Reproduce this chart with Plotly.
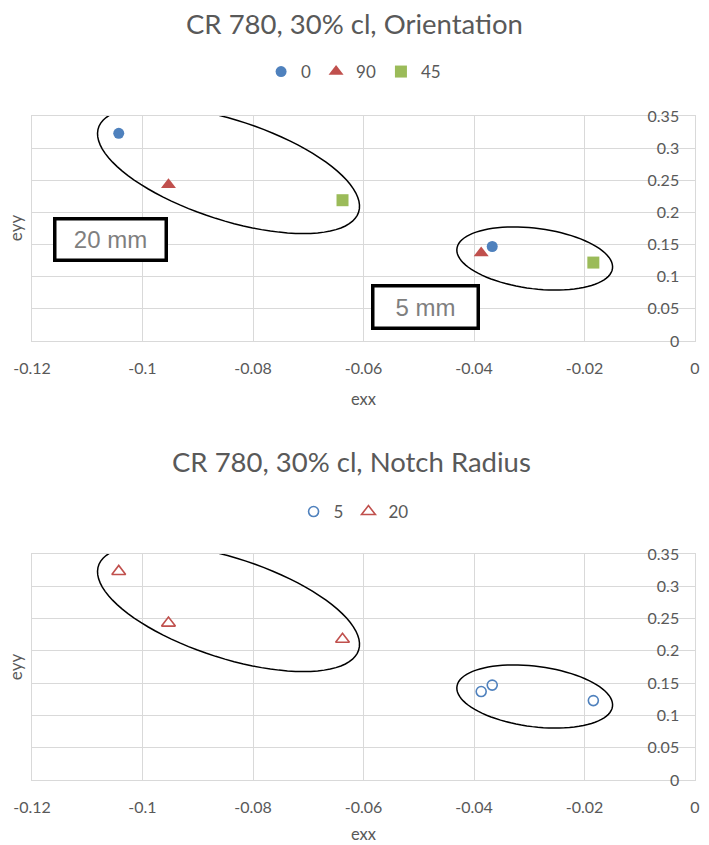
import numpy as np
import plotly.graph_objects as go

# ---------------- data ----------------
exx_0 = [-0.1043, -0.0367]
eyy_0 = [0.323, 0.147]
exx_90 = [-0.0953, -0.0387]
eyy_90 = [0.243, 0.137]
exx_45 = [-0.0638, -0.0184]
eyy_45 = [0.219, 0.122]

exx_r5 = [-0.0387, -0.0367, -0.0184]
eyy_r5 = [0.137, 0.147, 0.123]
exx_r20 = [-0.1043, -0.0953, -0.0638]
eyy_r20 = [0.323, 0.243, 0.218]

x_range = [-0.12, 0]
y_range = [0, 0.35]
x_ticks = [-0.12, -0.1, -0.08, -0.06, -0.04, -0.02, 0]
x_ticklabels = ["-0.12", "-0.1", "-0.08", "-0.06", "-0.04", "-0.02", "0"]
y_ticks = [0, 0.05, 0.1, 0.15, 0.2, 0.25, 0.3, 0.35]
y_ticklabels = ["0", "0.05", "0.1", "0.15", "0.2", "0.25", "0.3", "0.35"]

BLUE = "#4F81BD"
RED = "#C0504D"
GREEN = "#9BBB59"
TXT = "#595959"
GRID = "#D9D9D9"
FONT = "Lato"

W, H = 709, 845
ML, MR, MT, MB = 32, 9, 116, 65
PW = W - ML - MR
PH = H - MT - MB
TOP1, BOT1 = 116, 341
TOP2, BOT2 = 554, 780


def py2paper(py):
    return (H - MB - py) / PH


def px2paper(px):
    return (px - ML) / PW


fig = go.Figure()

# top chart
fig.add_trace(go.Scatter(x=exx_0, y=eyy_0, mode="markers", name="0",
                         marker=dict(symbol="circle", size=11, color=BLUE),
                         xaxis="x", yaxis="y", legend="legend"))
fig.add_trace(go.Scatter(x=exx_90, y=eyy_90, mode="markers", name="90",
                         marker=dict(symbol="triangle-up", size=13, color=RED),
                         xaxis="x", yaxis="y", legend="legend"))
fig.add_trace(go.Scatter(x=exx_45, y=eyy_45, mode="markers", name="45",
                         marker=dict(symbol="square", size=12, color=GREEN),
                         xaxis="x", yaxis="y", legend="legend"))
# bottom chart
fig.add_trace(go.Scatter(x=exx_r5, y=eyy_r5, mode="markers", name="5",
                         marker=dict(symbol="circle-open", size=10, color=BLUE,
                                     line=dict(width=1.6, color=BLUE)),
                         xaxis="x2", yaxis="y2", legend="legend2"))
fig.add_trace(go.Scatter(x=exx_r20, y=eyy_r20, mode="markers", name="20",
                         marker=dict(symbol="triangle-up-open", size=12, color=RED,
                                     line=dict(width=1.6, color=RED)),
                         xaxis="x2", yaxis="y2", legend="legend2"))


def ellipse_path(cx, cy, a, b, theta_deg, ptop, h, n=90):
    t = np.linspace(0, 2 * np.pi, n)
    th = np.radians(theta_deg)
    px = cx + a * np.cos(t) * np.cos(th) - b * np.sin(t) * np.sin(th)
    py = cy + a * np.cos(t) * np.sin(th) + b * np.sin(t) * np.cos(th)
    xs = x_range[0] + (px - ML) / PW * (x_range[1] - x_range[0])
    ys = (1 - (py - ptop) / h) * (y_range[1] - y_range[0])
    pts = ["%s%.6f,%.6f" % ("M" if i == 0 else "L", xx, yy) for i, (xx, yy) in enumerate(zip(xs, ys))]
    return " ".join(pts) + " Z"


shapes = []
for (xr, yr, ptop, pbot) in [("x", "y", TOP1, BOT1), ("x2", "y2", TOP2, BOT2)]:
    h = pbot - ptop
    shapes.append(dict(type="path", xref=xr, yref=yr,
                       path=ellipse_path(230, ptop + 54, 137.7, 50, 17.8, ptop, h),
                       line=dict(color="black", width=1.5)))
    shapes.append(dict(type="path", xref=xr, yref=yr,
                       path=ellipse_path(538.5, ptop + 142.5, 79, 30.2, 7.2, ptop, h),
                       line=dict(color="black", width=1.5)))

annotations = []


def ann(text, px, py, size, **kw):
    d = dict(text=text, x=px2paper(px), y=py2paper(py), xref="paper", yref="paper",
             xanchor="center", yanchor="middle", showarrow=False,
             font=dict(family=kw.pop("family", FONT), size=size, color=kw.pop("color", TXT)))
    d.update(kw)
    annotations.append(d)


# titles
ann("CR 780, 30% cl, Orientation", 357, 23, 27.5)
ann("CR 780, 30% cl, Notch Radius", 354, 461, 27.5)
# axis titles
for py in (399, 834):
    ann("exx", 366, py, 16.5)
for py in (228, 667):
    ann("eyy", 15, py, 17, textangle=-90)
# labelled boxes
ann("20 mm", 111.5, 239, 24, family="Liberation Sans", color="#7F7F7F",
    width=108, height=38, borderpad=0, borderwidth=3.5, bordercolor="black", bgcolor="white")
ann("5 mm", 428.5, 306.5, 24, family="Liberation Sans", color="#7F7F7F",
    width=102, height=39, borderpad=0, borderwidth=3.5, bordercolor="black", bgcolor="white")

xaxis_common = dict(range=x_range, tickvals=x_ticks, ticktext=x_ticklabels,
                    showgrid=True, gridcolor=GRID, gridwidth=1, zeroline=False,
                    showline=True, linecolor=GRID, linewidth=1, mirror=True,
                    ticks="", ticklabelstandoff=13,
                    tickfont=dict(family=FONT, size=16, color=TXT),
                    fixedrange=True)
yaxis_common = dict(range=y_range, tickvals=y_ticks, ticktext=y_ticklabels,
                    showgrid=True, gridcolor=GRID, gridwidth=1, zeroline=False,
                    showline=True, linecolor=GRID, linewidth=1, mirror=True,
                    ticks="", side="right", ticklabelposition="inside",
                    ticklabeloverflow="allow", ticklabelstandoff=16,
                    tickfont=dict(family=FONT, size=16, color=TXT), fixedrange=True)

d1 = [py2paper(BOT1), py2paper(TOP1)]
d2 = [py2paper(BOT2), py2paper(TOP2)]

legend_common = dict(orientation="h", xanchor="center", yanchor="middle",
                     font=dict(family=FONT, size=17, color=TXT),
                     bgcolor="rgba(0,0,0,0)", itemwidth=30, tracegroupgap=0)

fig.update_layout(
    width=W, height=H,
    margin=dict(l=ML, r=MR, t=MT, b=MB),
    paper_bgcolor="white", plot_bgcolor="white",
    xaxis=dict(xaxis_common, domain=[0, 1], anchor="y"),
    yaxis=dict(yaxis_common, domain=d1, anchor="x"),
    xaxis2=dict(xaxis_common, domain=[0, 1], anchor="y2"),
    yaxis2=dict(yaxis_common, domain=d2, anchor="x2"),
    legend=dict(legend_common, x=px2paper(356), y=py2paper(72)),
    legend2=dict(legend_common, x=px2paper(356), y=py2paper(512)),
    shapes=shapes,
    annotations=annotations,
    showlegend=True,
)

fig.write_html("out.html")
